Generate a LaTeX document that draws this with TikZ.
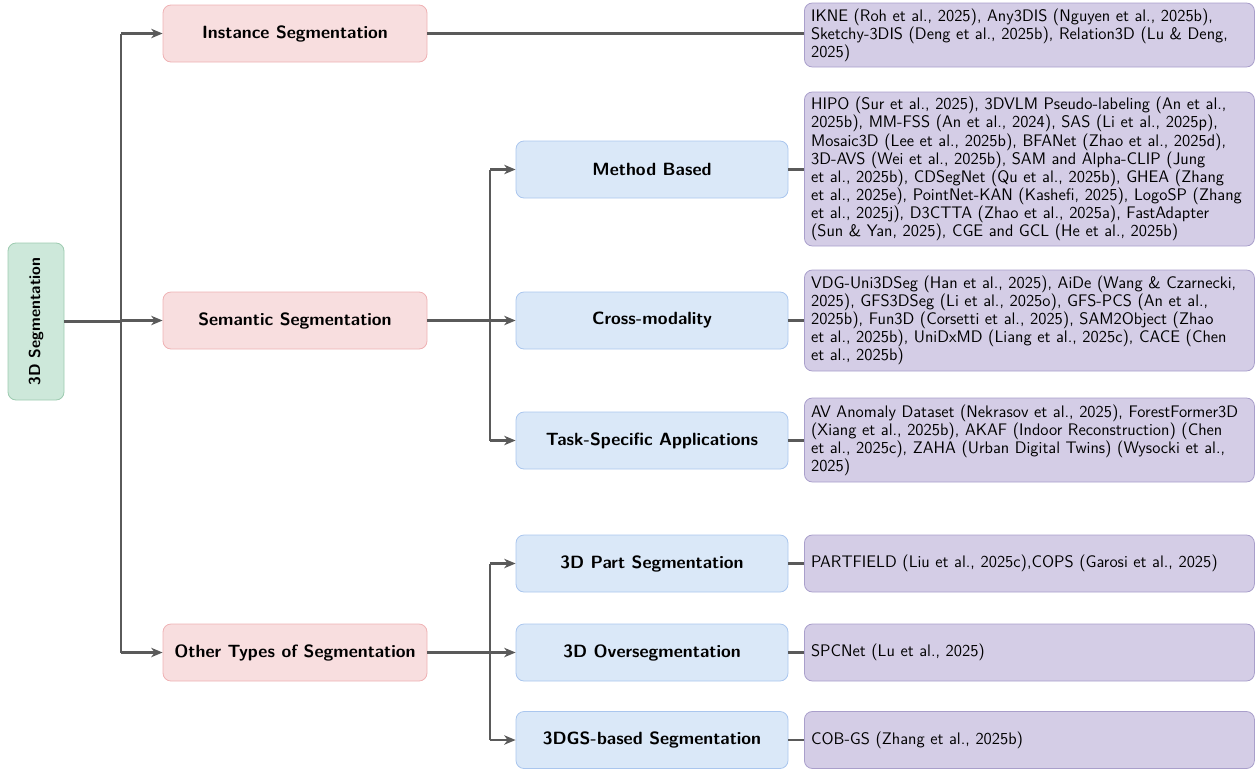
\documentclass[tikz,border=0pt]{standalone}
\usetikzlibrary{arrows.meta}
\definecolor{rootfill}{HTML}{CDE8DA}
\definecolor{rootline}{HTML}{9DCBB0}
\definecolor{catfill}{HTML}{F8DEDF}
\definecolor{catline}{HTML}{EFB2B4}
\definecolor{subfill}{HTML}{DAE8F8}
\definecolor{subline}{HTML}{AAC6EE}
\definecolor{leaffill}{HTML}{D4CDE6}
\definecolor{leafline}{HTML}{A99FCB}
\definecolor{wire}{HTML}{5A5A5A}
\tikzset{
  box/.style={draw, rounded corners=6pt, line width=0.6pt, align=center,
    font=\sffamily\bfseries\fontsize{13.3}{15}\selectfont, inner sep=4pt},
  rootbox/.style={box, fill=rootfill, draw=rootline, rotate=90,
    minimum width=117.75pt, minimum height=42pt,
    font=\sffamily\bfseries\fontsize{11.9}{14}\selectfont},
  catbox/.style={box, fill=catfill, draw=catline, minimum width=198pt, minimum height=42.75pt},
  subbox/.style={box, fill=subfill, draw=subline, minimum width=204pt, minimum height=42.75pt},
  leafbox/.style={draw=leafline, fill=leaffill, rounded corners=6pt, line width=0.6pt,
    anchor=west, align=left, text width=327.5pt, inner xsep=5pt, inner ysep=3pt,
    font=\sffamily\fontsize{12.55}{12.4}\selectfont},
  wireline/.style={draw=wire, line width=1.7pt},
  arrowline/.style={wireline, -{Stealth[length=8.5pt, width=7pt, inset=2.5pt]}},
}
\begin{document}
\begin{tikzpicture}[x=0.75pt, y=-0.75pt]
  \useasboundingbox (0,0) rectangle (1256,768);

  % root
  \node[rootbox] (root) at (36,321.5) {3D Segmentation};

  % first level
  \node[catbox] (inst) at (295,33.5) {Instance Segmentation};
  \node[catbox] (sem) at (295,320.5) {Semantic Segmentation};
  \node[catbox] (other) at (295,652.5) {Other Types of Segmentation};

  % second level
  \node[subbox] (meth) at (652,169.5) {Method Based};
  \node[subbox] (cross) at (652,320.5) {Cross-modality};
  \node[subbox] (task) at (652,440.5) {Task-Specific Applications};
  \node[subbox] (part) at (652,563.5) {3D Part Segmentation};
  \node[subbox] (over) at (652,652.5) {3D Oversegmentation};
  \node[subbox] (gs) at (652,740) {3DGS-based Segmentation};

  % literature leaves
  \node[leafbox, minimum height=48pt] (linst) at (804,35) {IKNE (Roh et~al., 2025), Any3DIS (Nguyen et~al., 2025b), Sketchy-3DIS (Deng et~al., 2025b), Relation3D (Lu \& Deng, 2025)};
  \node[leafbox, minimum height=115.5pt] (lmeth) at (804,169) {HIPO (Sur et~al., 2025), 3DVLM Pseudo-labeling (An et~al., 2025b), MM-FSS (An et~al., 2024), SAS (Li et~al., 2025p), Mosaic3D (Lee et~al., 2025b), BFANet (Zhao et~al., 2025d), 3D-AVS (Wei et~al., 2025b), SAM and Alpha-CLIP (Jung et~al., 2025b), CDSegNet (Qu et~al., 2025b), GHEA (Zhang et~al., 2025e), PointNet-KAN (Kashefi, 2025), LogoSP (Zhang et~al., 2025j), D3CTTA (Zhao et~al., 2025a), FastAdapter (Sun~\&~Yan, 2025), CGE and GCL (He et~al., 2025b)};
  \node[leafbox, minimum height=75.75pt] (lcross) at (804,320.5) {VDG-Uni3DSeg (Han et~al., 2025), AiDe (Wang \& Czarnecki, 2025), GFS3DSeg (Li et~al., 2025o), GFS-PCS (An et~al., 2025b), Fun3D (Corsetti et~al., 2025), SAM2Object (Zhao et~al., 2025b), UniDxMD (Liang et~al., 2025c), CACE (Chen et~al., 2025b)};
  \node[leafbox, minimum height=63pt] (ltask) at (804,440) {AV Anomaly Dataset (Nekrasov et~al., 2025), ForestFormer3D (Xiang et~al., 2025b), AKAF (Indoor Reconstruction) (Chen et~al., 2025c), ZAHA (Urban Digital Twins) (Wysocki et~al., 2025)};
  \node[leafbox, minimum height=42.75pt] (lpart) at (804,563.5) {PARTFIELD (Liu et~al., 2025c),COPS (Garosi et~al., 2025)};
  \node[leafbox, minimum height=42.75pt] (lover) at (804,652.5) {SPCNet (Lu et~al., 2025)};
  \node[leafbox, minimum height=42.75pt] (lgs) at (804,740) {COB-GS (Zhang et~al., 2025b)};

  % branching points
  \coordinate (ja) at (121,321.5);
  \coordinate (jb) at (490,320.5);
  \coordinate (jc) at (490,652.5);

  % root to first level
  \draw[wireline] (root.south) -- (ja);
  \draw[wireline] (ja |- inst.west) -- (ja |- other.west);
  \draw[arrowline] (ja |- inst.west) -- (inst.west);
  \draw[arrowline] (ja |- sem.west) -- (sem.west);
  \draw[arrowline] (ja |- other.west) -- (other.west);

  % semantic branch
  \draw[wireline] (sem.east) -- (jb);
  \draw[wireline] (jb |- meth.west) -- (jb |- task.west);
  \draw[arrowline] (jb |- meth.west) -- (meth.west);
  \draw[arrowline] (jb |- cross.west) -- (cross.west);
  \draw[arrowline] (jb |- task.west) -- (task.west);

  % other types branch
  \draw[wireline] (other.east) -- (jc);
  \draw[wireline] (jc |- part.west) -- (jc |- gs.west);
  \draw[arrowline] (jc |- part.west) -- (part.west);
  \draw[arrowline] (jc |- over.west) -- (over.west);
  \draw[arrowline] (jc |- gs.west) -- (gs.west);

  % categories to literature
  \draw[wireline] (inst.east) -- (linst.west |- inst.east);
  \draw[wireline] (meth.east) -- (lmeth.west |- meth.east);
  \draw[wireline] (cross.east) -- (lcross.west |- cross.east);
  \draw[wireline] (task.east) -- (ltask.west |- task.east);
  \draw[wireline] (part.east) -- (lpart.west);
  \draw[wireline] (over.east) -- (lover.west);
  \draw[wireline] (gs.east) -- (lgs.west);
\end{tikzpicture}
\end{document}
